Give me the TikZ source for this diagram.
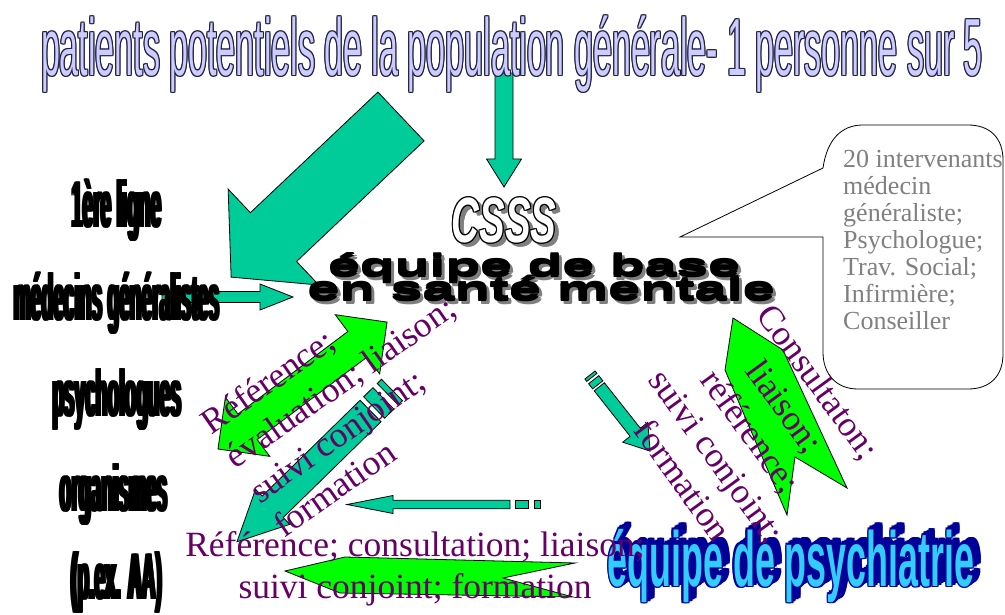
\documentclass[tikz,border=0pt]{standalone}
\usepackage{fontspec}
\setmainfont{Liberation Serif}
\newfontfamily\fnttitle{Liberation Sans}[FakeStretch=0.42]
\newfontfamily\fntleft{Liberation Sans Bold}[FakeStretch=0.29]
\newfontfamily\fntcsss{Liberation Sans Bold Italic}[FakeStretch=0.6]
\newfontfamily\fntbase{Liberation Sans Bold}[FakeStretch=1.9]
\newfontfamily\fntmentale{Liberation Sans Bold}[FakeStretch=1.8]
\newfontfamily\fntpsy{Liberation Sans Bold}[FakeStretch=0.46]
\usetikzlibrary{positioning}

\definecolor{arrowteal}{HTML}{00CC99}
\definecolor{arrowgreen}{HTML}{00FF00}
\definecolor{labelpurple}{HTML}{660066}
\definecolor{teamgray}{HTML}{808080}
\definecolor{titlefill}{HTML}{CCCCFF}
\definecolor{titleline}{HTML}{202040}
\definecolor{psyfill}{HTML}{33CCFF}
\definecolor{psyline}{HTML}{000099}
\definecolor{shadowgray}{HTML}{7F7F7F}

% copies of box 0 all round, for outlines
\newcommand{\ringcopies}[2]{%
  \rlap{\textcolor{#1}{\copy0}}%
  \rlap{\kern#2\textcolor{#1}{\copy0}}%
  \rlap{\kern-#2\textcolor{#1}{\copy0}}%
  \rlap{\raisebox{#2}{\textcolor{#1}{\copy0}}}%
  \rlap{\raisebox{-#2}{\textcolor{#1}{\copy0}}}%
  \rlap{\kern#2\raisebox{#2}{\textcolor{#1}{\copy0}}}%
  \rlap{\kern-#2\raisebox{#2}{\textcolor{#1}{\copy0}}}%
  \rlap{\kern#2\raisebox{-#2}{\textcolor{#1}{\copy0}}}%
  \rlap{\kern-#2\raisebox{-#2}{\textcolor{#1}{\copy0}}}}
\newcommand{\outlinetext}[4]{\setbox0=\hbox{#4}\ringcopies{#1}{#3}\textcolor{#2}{\copy0}}
% thicker stems: side by side copies
\newcommand{\widetext}[4]{%
  \setbox0=\hbox{#4}%
  \rlap{\kern-#2\textcolor{#1}{\copy0}}\rlap{\kern-#3\textcolor{#1}{\copy0}}%
  \rlap{\kern#3\textcolor{#1}{\copy0}}\rlap{\kern#2\textcolor{#1}{\copy0}}%
  \textcolor{#1}{\copy0}}
% thicker bars: copies one above the other, with a shadow
\newcommand{\tallshadowtext}[5]{%
  \setbox0=\hbox{#5}%
  \setbox2=\hbox{\rlap{\raisebox{#4}{\copy0}}\rlap{\raisebox{-#4}{\copy0}}%
    \rlap{\kern0.5pt\copy0}\copy0}%
  \rlap{\kern#3\raisebox{-#3}{\textcolor{#2}{\copy2}}}%
  \textcolor{#1}{\copy2}}
\newcommand{\shadowtext}[7]{%
  \setbox0=\hbox{#7}%
  \rlap{\kern#4\raisebox{#5}{\ringcopies{#3}{#6}}}%
  \ringcopies{#1}{#6}\textcolor{#2}{\copy0}}
\newcommand{\extrudedtext}[4]{%
  \setbox0=\hbox{#4}%
  \rlap{\kern7pt\raisebox{5pt}{\ringcopies{#1}{#3}}}%
  \rlap{\kern5pt\raisebox{3.5pt}{\ringcopies{#1}{#3}}}%
  \rlap{\kern2.5pt\raisebox{1.8pt}{\ringcopies{#1}{#3}}}%
  \ringcopies{#1}{#3}\textcolor{#2}{\copy0}}

% style, tail x, tail y, angle, length, head length, head half width, shaft half width
\newcommand{\blockarrow}[8]{%
  \draw[#1, shift={(#2,#3)}, rotate=#4]
    (0,#8) -- ({#5-#6},#8) -- ({#5-#6},#7) -- (#5,0) -- ({#5-#6},-#7)
    -- ({#5-#6},-#8) -- (0,-#8) -- cycle;}
% same, with two stripes at the tail (#9 scales the stripes)
\newcommand{\stripedarrow}[9]{%
  \begin{scope}[shift={(#2,#3)}, rotate=#4]
    \draw[#1] (0,-#8) rectangle ({6*#9},#8);
    \draw[#1] ({12*#9},-#8) rectangle ({25*#9},#8);
    \draw[#1] ({30*#9},#8) -- ({#5-#6},#8) -- ({#5-#6},#7) -- (#5,0)
      -- ({#5-#6},-#7) -- ({#5-#6},-#8) -- ({30*#9},-#8) -- cycle;
  \end{scope}}

\tikzset{
  tealarrow/.style={fill=arrowteal, draw=black, line width=0.8pt},
  greenarrow/.style={fill=arrowgreen, draw=black, line width=0.8pt},
  leftlabel/.style={anchor=base, inner sep=0pt, font=\fntleft\fontsize{66}{66}\selectfont},
  purplelabel/.style={inner sep=0pt, text=labelpurple, font=\fontsize{35.5}{42}\selectfont},
  teamtext/.style={inner sep=0pt, align=left, text=teamgray, font=\fontsize{26}{27}\selectfont}
}

\begin{document}
\begin{tikzpicture}[x=1pt, y=-1pt]
  \useasboundingbox (0,0) rectangle (1005,615);

  % speech bubble
  \draw[fill=white, line width=0.8pt] (823,168) -- (680,237) -- (823,237) -- (823,352)
    .. controls (823,374) and (836,389) .. (858,389) -- (968,389)
    .. controls (990,389) and (1003,376) .. (1003,354) -- (1003,160)
    .. controls (1003,138) and (990,125) .. (968,125) -- (863,125)
    .. controls (841,125) and (827,140) .. (823,168) -- cycle;
  \node[teamtext, anchor=north west] (team) at (843,150)
    {20 intervenants\\médecin\\généraliste;\\Psychologue;\\Trav. Social;\\Infirmière;\\Conseiller};

  % teal arrows
  \blockarrow{tealarrow}{504}{73}{-90}{114}{28}{17.5}{9}
  \blockarrow{tealarrow}{401}{116.5}{223.4}{233.8}{58.3}{66}{33.6}
  \blockarrow{tealarrow}{162}{297}{0}{131}{33}{13}{5.5}
  \stripedarrow{tealarrow}{392}{390}{224.4}{217}{50}{24.5}{15}{1}
  \stripedarrow{tealarrow}{590}{375}{-51.7}{97}{24}{16}{6.5}{0.5}
  \stripedarrow{tealarrow}{540}{504.5}{180}{193}{46}{9}{4.3}{1}

  % green arrows
  \draw[greenarrow, shift={(218,449)}, rotate=36.9]
    (0,0) -- (37,37) -- (37,16) -- (174.4,16) -- (174.4,37) -- (211.4,0)
    -- (174.4,-37) -- (174.4,-16) -- (37,-16) -- (37,-37) -- cycle;
  \draw[greenarrow] (733,318) -- (783,350) -- (847,488) -- (795,457) -- (787,515) -- (725,370) -- cycle;
  \draw[greenarrow] (285,571) -- (345,557) -- (575,563) -- (503,578) -- (573,597) -- (340,593) -- cycle;

  % title
  \node[anchor=base, inner sep=0pt] (title) at (512,76)
    {\outlinetext{titleline}{titlefill}{1pt}{\fnttitle\fontsize{81}{81}\selectfont patients potentiels de la population générale- 1 personne sur 5}};

  % first line
  \node[leftlabel] (ligne) at (117,228) {\widetext{black}{1.6pt}{0.8pt}{1ère ligne}};
  \node[leftlabel] (medecins) at (117,320) {\widetext{black}{1.6pt}{0.8pt}{médecins généralistes}};
  \node[leftlabel] (psychologues) at (117,416) {\widetext{black}{1.6pt}{0.8pt}{psychologues}};
  \node[leftlabel] (organismes) at (114,511) {\widetext{black}{1.6pt}{0.8pt}{organismes}};
  \node[leftlabel] (aa) at (117,599) {\widetext{black}{1.6pt}{0.8pt}{(p.ex. AA)}};

  % CSSS
  \node[anchor=base, inner sep=0pt] (csss) at (504,243)
    {\shadowtext{black}{white}{shadowgray}{4pt}{-3pt}{1pt}{\fntcsss\fontsize{64}{64}\selectfont CSSS}};
  \node[anchor=base, inner sep=0pt] (basea) at (534,276)
    {\tallshadowtext{black}{shadowgray}{3pt}{1.2pt}{\fntbase\fontsize{30}{30}\selectfont équipe de base}};
  \node[anchor=base, inner sep=0pt] (baseb) at (541,300)
    {\tallshadowtext{black}{shadowgray}{3pt}{1.2pt}{\fntmentale\fontsize{32}{32}\selectfont en santé mentale}};

  % psychiatry team
  \node[anchor=base, inner sep=0pt] (psy) at (791,586)
    {\extrudedtext{psyline}{psyfill}{1.4pt}{\fntpsy\fontsize{78}{78}\selectfont équipe de psychiatrie}};

  % purple labels
  \node[purplelabel, align=left, rotate=35] (refeval) at (352,399)
    {Référence;\\évaluation; liaison;\\suivi conjoint;\\formation};
  \node[purplelabel, align=center, rotate=-54] (consult) at (751,431)
    {Consultaton;\\liaison;\\référence;\\suivi conjoint;\\formation};
  \node[purplelabel, align=center] (refbas) at (415,569)
    {Référence; consultation; liaison;\\suivi conjoint; formation};
\end{tikzpicture}
\end{document}
